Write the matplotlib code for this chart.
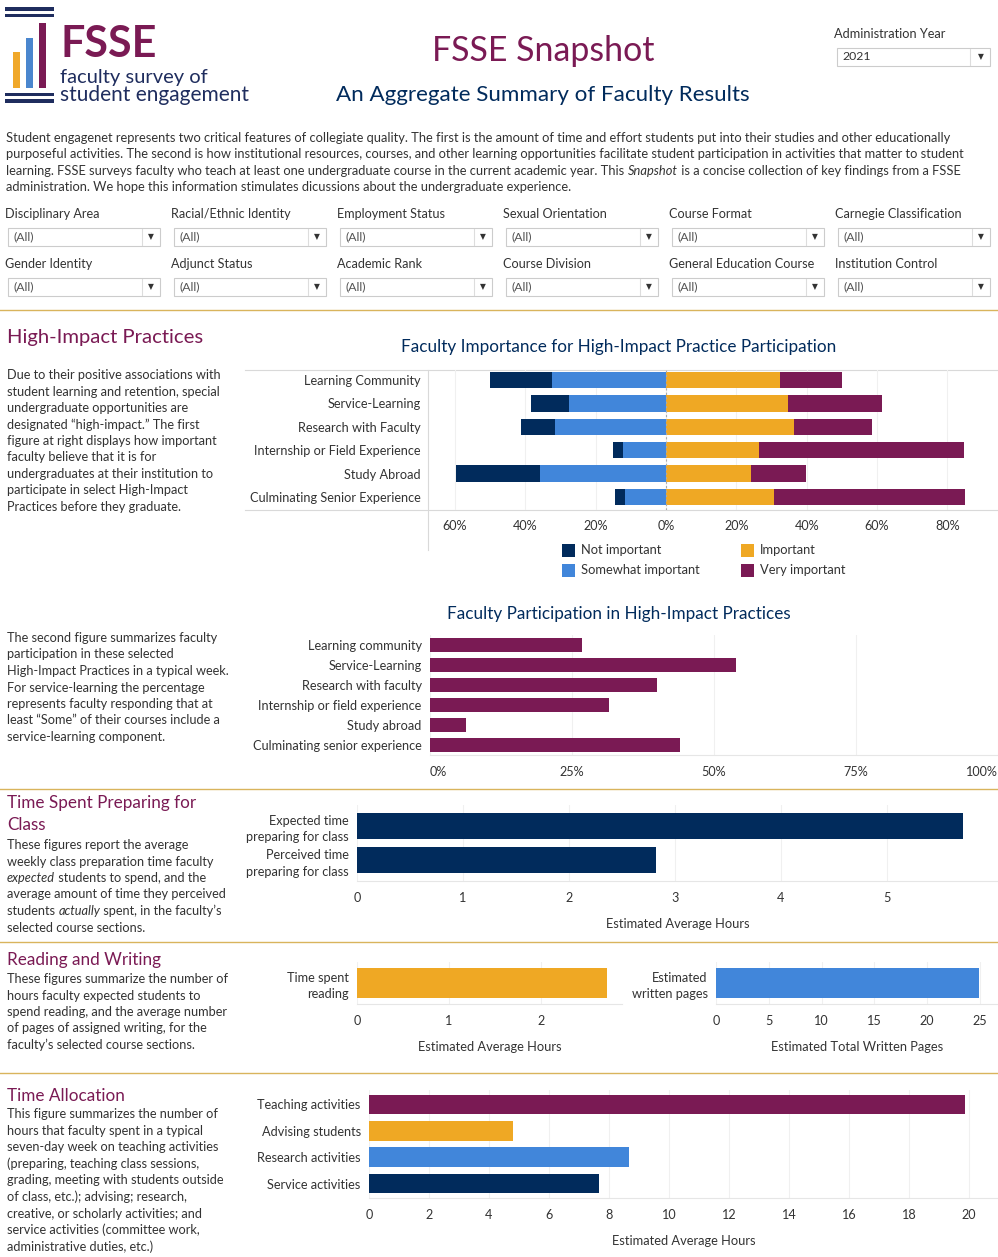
import matplotlib
matplotlib.use("Agg")
import matplotlib.pyplot as plt
from matplotlib.patches import Rectangle
from matplotlib.lines import Line2D
from matplotlib.ticker import FuncFormatter

plt.rcParams['font.family'] = ['Lato', 'DejaVu Sans']

# ---------------- data ----------------
hip_cats = ["Learning Community", "Service-Learning", "Research with Faculty",
            "Internship or Field Experience", "Study Abroad", "Culminating Senior Experience"]
hip_not = [17.7, 10.7, 9.7, 3.0, 24.0, 3.0]
hip_somewhat = [32.3, 27.6, 31.5, 12.1, 35.7, 11.6]
hip_important = [32.4, 34.7, 36.4, 26.3, 24.3, 30.8]
hip_very = [17.6, 26.8, 22.3, 58.4, 15.5, 54.2]
hip_ticks = [-60, -40, -20, 0, 20, 40, 60, 80]

part_cats = ["Learning community", "Service-Learning", "Research with faculty",
             "Internship or field experience", "Study abroad", "Culminating senior experience"]
part_vals = [26.7, 53.8, 39.9, 31.5, 6.3, 44.0]
part_ticks = [0, 25, 50, 75, 100]

prep_cats = ["Expected time\npreparing for class", "Perceived time\npreparing for class"]
prep_vals = [5.72, 2.82]
prep_ticks = [0, 1, 2, 3, 4, 5]

read_cats = ["Time spent\nreading"]
read_vals = [2.72]
read_ticks = [0, 1, 2]

write_cats = ["Estimated\nwritten pages"]
write_vals = [24.9]
write_ticks = [0, 5, 10, 15, 20, 25]

alloc_cats = ["Teaching activities", "Advising students", "Research activities", "Service activities"]
alloc_vals = [19.85, 4.8, 8.65, 7.67]
alloc_ticks = list(range(0, 21, 2))

filters_row1 = ["Disciplinary Area", "Racial/Ethnic Identity", "Employment Status",
                "Sexual Orientation", "Course Format", "Carnegie Classification"]
filters_row2 = ["Gender Identity", "Adjunct Status", "Academic Rank",
                "Course Division", "General Education Course", "Institution Control"]

# ---------------- styling ----------------
NAVY = "#012B5C"
BLUE = "#4186DA"
ORANGE = "#EFA824"
MAROON = "#7A1A54"
LOGO_NAVY = "#1F2D5E"
TXT = "#333333"
GOLD = "#D9B45C"
GRID = "#F0F0F0"

BODY = 9.2     # paragraph text
LAB = 9.1      # category / tick labels

W, H = 998, 1257
fig = plt.figure(figsize=(W / 100, H / 100), dpi=100)
fig.patch.set_facecolor("white")

deco = fig.add_axes([0, 0, 1, 1], zorder=-1)
deco.set_xlim(0, W)
deco.set_ylim(H, 0)
deco.axis("off")


def txt(x, y, s, size=BODY, color=TXT, **kw):
    return fig.text(x / W, 1 - y / H, s, fontsize=size, color=color, **kw)


def rich(x, y, parts, size=BODY, color=TXT):
    prev = None
    for s, style in parts:
        if prev is None:
            prev = txt(x, y, s, size=size, color=color, style=style, va="bottom")
        else:
            prev = plt.annotate(s, xy=(1, 0), xycoords=prev, va="bottom",
                                fontsize=size, color=color, style=style,
                                annotation_clip=False)
    return prev


def axes_px(x0, y0, x1, y1):
    return fig.add_axes([x0 / W, 1 - y1 / H, (x1 - x0) / W, (y1 - y0) / H])


def hline(y, x0=0, x1=W, color=GOLD, lw=1.0):
    deco.add_line(Line2D([x0, x1], [y, y], color=color, lw=lw))


# ---------------- logo ----------------
for (y0, h) in [(7, 3.5), (14, 2.5), (93, 2.5), (99, 4)]:
    deco.add_patch(Rectangle((5, y0), 49, h, color=LOGO_NAVY, lw=0))
deco.add_patch(Rectangle((13, 52), 7.5, 36, color="#F0A82A", lw=0))
deco.add_patch(Rectangle((26, 38), 7.5, 50, color="#4A86CE", lw=0))
deco.add_patch(Rectangle((39, 23), 7.5, 65, color=MAROON, lw=0))
txt(61, 57, "FSSE", size=31, color=MAROON, weight="bold", va="baseline")
txt(60, 83, "faculty survey of", size=14.5, color=LOGO_NAVY, va="baseline")
txt(60, 101, "student engagement", size=15, color=LOGO_NAVY, va="baseline")

# ---------------- titles ----------------
txt(543, 51, "FSSE Snapshot", size=24.4, color=MAROON, ha="center", va="center")
txt(543, 95, "An Aggregate Summary of Faculty Results", size=16.1, color=NAVY, ha="center", va="center")

txt(834, 34, "Administration Year", size=9.2, color=TXT, va="center")
deco.add_patch(Rectangle((837, 48), 153, 18, fill=False, ec="#CCCCCC", lw=0.8))
deco.add_line(Line2D([970, 970], [49, 65], color="#DDDDDD", lw=0.8))
txt(842, 57, "2021", size=8.8, color=TXT, va="center")
txt(981, 57, "\u25BC", size=5.5, color=TXT, va="center", ha="center", family="DejaVu Sans")

# ---------------- intro paragraph ----------------
intro_lines = [
    [("Student engagenet represents two critical features of collegiate quality. The first is the amount of time and effort students put into their studies and other educationally", "normal")],
    [("purposeful activities. The second is how institutional resources, courses, and other learning opportunities facilitate student participation in activities that matter to student", "normal")],
    [("learning. FSSE surveys faculty who teach at least one undergraduate course in the current academic year. This ", "normal"),
     ("Snapshot", "italic"), (" is a concise collection of key findings from a FSSE", "normal")],
    [("administration. We hope this information stimulates dicussions about the undergraduate experience.", "normal")],
]
for i, parts in enumerate(intro_lines):
    rich(6, 144 + i * 16.3, parts, size=9.3)

# ---------------- filters ----------------
for r, row in enumerate([filters_row1, filters_row2]):
    for c, name in enumerate(row):
        x = 5 + c * 166
        ylab = 214 + r * 50
        ybox = 228 + r * 50
        txt(x, ylab, name, size=9.1, color=TXT, va="center")
        deco.add_patch(Rectangle((x + 3, ybox), 152, 18, fill=False, ec="#CCCCCC", lw=0.8))
        deco.add_line(Line2D([x + 137, x + 137], [ybox + 1, ybox + 17], color="#DDDDDD", lw=0.8))
        txt(x + 8, ybox + 9, "(All)", size=8.8, color="#555555", va="center")
        txt(x + 146, ybox + 9, "\u25BC", size=5.5, color=TXT, va="center", ha="center", family="DejaVu Sans")

hline(310)
hline(789)
hline(942)
hline(1073)

# ---------------- section texts ----------------
txt(7, 338, "High-Impact Practices", size=14.6, color=MAROON, va="center")
hip_text = ["Due to their positive associations with",
            "student learning and retention, special",
            "undergraduate opportunities are",
            "designated \u201chigh-impact.\u201d The first",
            "figure at right displays how important",
            "faculty believe that it is for",
            "undergraduates at their institution to",
            "participate in select High-Impact",
            "Practices before they graduate."]
for i, s in enumerate(hip_text):
    txt(7, 375 + i * 16.5, s, va="center")

part_text = ["The second figure summarizes faculty",
             "participation in these selected",
             "High-Impact Practices in a typical week.",
             "For service-learning the percentage",
             "represents faculty responding that at",
             "least \u201cSome\u201d of their courses include a",
             "service-learning component."]
for i, s in enumerate(part_text):
    txt(7, 638 + i * 16.5, s, va="center")

SEC = 12.3
txt(7, 803, "Time Spent Preparing for", size=SEC, color=MAROON, va="center")
txt(7, 825, "Class", size=SEC, color=MAROON, va="center")
prep_text = [[("These figures report the average", "normal")],
             [("weekly class preparation time faculty", "normal")],
             [("expected", "italic"), (" students to spend, and the", "normal")],
             [("average amount of time they perceived", "normal")],
             [("students ", "normal"), ("actually", "italic"), (" spent, in the faculty\u2019s", "normal")],
             [("selected course sections.", "normal")]]
for i, parts in enumerate(prep_text):
    rich(7, 851 + i * 16.5, parts)

txt(7, 960, "Reading and Writing", size=SEC, color=MAROON, va="center")
rw_text = ["These figures summarize the number of",
           "hours faculty expected students to",
           "spend reading, and the average number",
           "of pages of assigned writing, for the",
           "faculty\u2019s selected course sections."]
for i, s in enumerate(rw_text):
    txt(7, 979 + i * 16.5, s, va="center")

txt(7, 1096, "Time Allocation", size=SEC, color=MAROON, va="center")
ta_text = ["This figure summarizes the number of",
           "hours that faculty spent in a typical",
           "seven-day week on teaching activities",
           "(preparing, teaching class sessions,",
           "grading, meeting with students outside",
           "of class, etc.); advising; research,",
           "creative, or scholarly activities; and",
           "service activities (committee work,",
           "administrative duties, etc.)"]
for i, s in enumerate(ta_text):
    txt(7, 1114 + i * 16.6, s, va="center")


def style_axes(ax):
    for s in ["top", "right", "left"]:
        ax.spines[s].set_visible(False)
    ax.spines["bottom"].set_color("#E6E6E6")
    ax.spines["bottom"].set_linewidth(0.8)
    ax.tick_params(axis="both", length=0, colors=TXT, labelsize=LAB)
    ax.set_facecolor("none")
    ax.set_axisbelow(True)
    ax.xaxis.grid(True, color=GRID, lw=0.8)
    ax.yaxis.grid(False)


# ---------------- HIP importance chart ----------------
txt(619, 347, "Faculty Importance for High-Impact Practice Participation", size=12.3, color=NAVY,
    ha="center", va="center")
ax1 = axes_px(429, 370, 998, 510)
n = len(hip_cats)
ys = list(range(n))
left_some = [-s for s in hip_somewhat]
left_not = [-(s + t) for s, t in zip(hip_somewhat, hip_not)]
ax1.barh(ys, hip_somewhat, left=left_some, height=0.7, color=BLUE, label="Somewhat important")
ax1.barh(ys, hip_not, left=left_not, height=0.7, color=NAVY, label="Not important")
ax1.barh(ys, hip_important, left=0, height=0.7, color=ORANGE, label="Important")
ax1.barh(ys, hip_very, left=hip_important, height=0.7, color=MAROON, label="Very important")
ax1.set_xlim(-67.4, 94.4)
ax1.set_ylim(5.56, -0.43)
ax1.axvline(0, color="#AAAAAA", lw=0.8, ls=(0, (2, 2)), zorder=3)
style_axes(ax1)
ax1.spines["bottom"].set_visible(False)
ax1.set_xticks(hip_ticks)
ax1.xaxis.set_major_formatter(FuncFormatter(lambda v, p: f"{abs(v):.0f}%"))
ax1.tick_params(axis="x", pad=7)
ax1.set_yticks(ys)
ax1.set_yticklabels(hip_cats, fontsize=9.2)
ax1.tick_params(axis="y", pad=6)
hline(370, 245, 998, color="#D9D9D9", lw=0.8)
hline(510, 245, 998, color="#D9D9D9", lw=0.8)
deco.add_line(Line2D([428.5, 428.5], [370, 550], color="#D9D9D9", lw=0.8))

leg_items = [(562, 550, NAVY, "Not important"), (741, 550, ORANGE, "Important"),
             (562, 570, BLUE, "Somewhat important"), (741, 570, MAROON, "Very important")]
for x, y, c, lab in leg_items:
    deco.add_patch(Rectangle((x, y - 6.5), 13, 13, color=c, lw=0))
    txt(x + 19, y, lab, size=9.3, va="center")

# ---------------- participation chart ----------------
txt(619, 614, "Faculty Participation in High-Impact Practices", size=12.3, color=NAVY,
    ha="center", va="center")
ax2 = axes_px(430, 635, 998, 755)
yp = list(range(len(part_cats)))
ax2.barh(yp, part_vals, height=0.72, color=MAROON)
ax2.set_xlim(0, 100)
ax2.set_ylim(5.5, -0.5)
style_axes(ax2)
ax2.set_xticks(part_ticks)
ax2.set_xticklabels([f"{t}%" for t in part_ticks])
ax2.tick_params(axis="x", pad=8)
xl = ax2.get_xticklabels()
xl[0].set_ha("left")
xl[-1].set_ha("right")
ax2.set_yticks(yp)
ax2.set_yticklabels(part_cats, fontsize=9.2)
ax2.tick_params(axis="y", pad=6)

# ---------------- prep time chart ----------------
ax3 = axes_px(357, 805, 998, 881)
yq = [0, 1]
ax3.barh(yq, prep_vals, height=0.74, color=NAVY)
ax3.set_xlim(0, 641 / 106)
ax3.set_ylim(1.6, -0.6)
style_axes(ax3)
ax3.set_xticks(prep_ticks)
ax3.tick_params(axis="x", pad=8)
ax3.set_yticks(yq)
ax3.set_yticklabels(prep_cats, fontsize=9.2, linespacing=1.45)
ax3.tick_params(axis="y", pad=6)
ax3.set_xlabel("Estimated Average Hours", fontsize=9.3, color=TXT, labelpad=10)

# ---------------- reading chart ----------------
ax4 = axes_px(357, 962, 622, 1004)
ax4.barh([0], read_vals, height=0.78, color=ORANGE)
ax4.set_xlim(0, 265 / 92)
ax4.set_ylim(0.55, -0.55)
style_axes(ax4)
ax4.set_xticks(read_ticks)
ax4.tick_params(axis="x", pad=8)
ax4.set_yticks([0])
ax4.set_yticklabels(read_cats, fontsize=9.2, linespacing=1.45)
ax4.tick_params(axis="y", pad=6)
ax4.set_xlabel("Estimated Average Hours", fontsize=9.3, color=TXT, labelpad=10)

# ---------------- writing chart ----------------
ax5 = axes_px(716, 962, 998, 1004)
ax5.barh([0], write_vals, height=0.78, color=BLUE)
ax5.set_xlim(0, 282 / 10.55)
ax5.set_ylim(0.55, -0.55)
style_axes(ax5)
ax5.set_xticks(write_ticks)
ax5.tick_params(axis="x", pad=8)
ax5.set_yticks([0])
ax5.set_yticklabels(write_cats, fontsize=9.2, linespacing=1.45)
ax5.tick_params(axis="y", pad=6)
ax5.set_xlabel("Estimated Total Written Pages", fontsize=9.3, color=TXT, labelpad=10)

# ---------------- time allocation chart ----------------
ax6 = axes_px(369, 1090, 998, 1198)
ya = list(range(len(alloc_cats)))
ax6.barh(ya, alloc_vals, height=0.75, color=[MAROON, ORANGE, BLUE, NAVY])
ax6.set_xlim(0, 629 / 30)
ax6.set_ylim(3.55, -0.55)
style_axes(ax6)
ax6.set_xticks(alloc_ticks)
ax6.tick_params(axis="x", pad=8)
ax6.set_yticks(ya)
ax6.set_yticklabels(alloc_cats, fontsize=9.2)
ax6.tick_params(axis="y", pad=6)
ax6.set_xlabel("Estimated Average Hours", fontsize=9.3, color=TXT, labelpad=10)

fig.savefig("out.png", dpi=100, facecolor="white")
